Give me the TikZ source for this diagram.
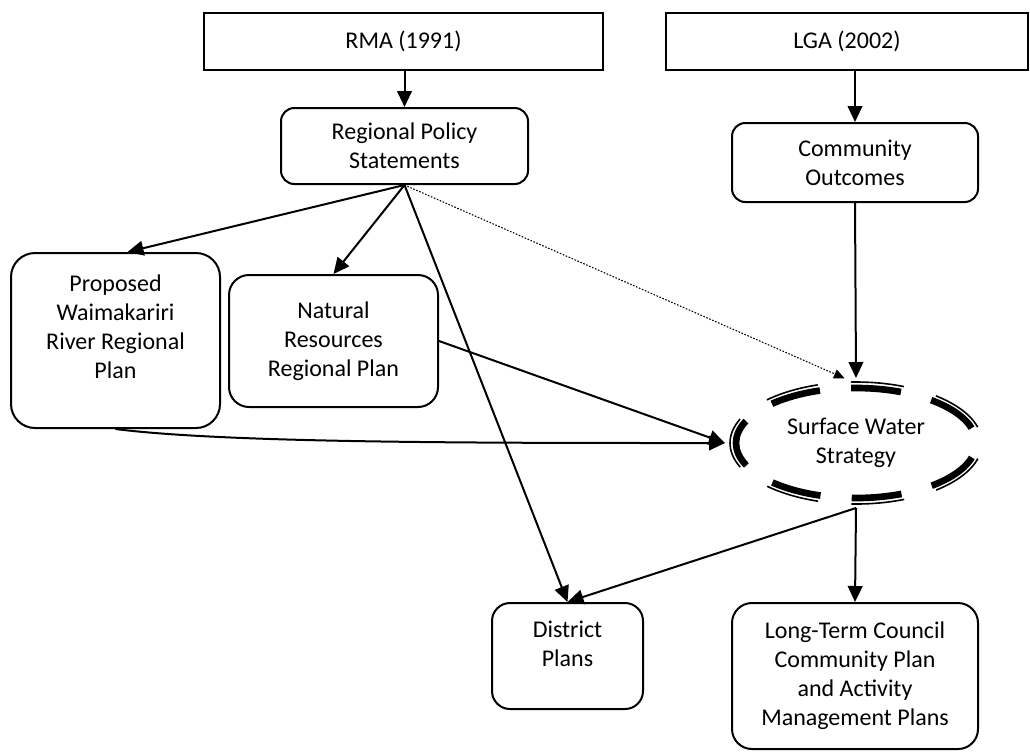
\documentclass[tikz,border=0pt]{standalone}
\usepackage{fontspec}
\setmainfont{Carlito}
\usepackage{tikz}
\usetikzlibrary{arrows.meta,shapes.geometric}

\begin{document}
\begin{tikzpicture}[x=0.75pt,y=-0.75pt,
  font=\fontsize{18}{21.75}\selectfont,
  >={Triangle[length=12pt,width=11pt]},
  actbox/.style={draw,line width=1.5pt,align=center,inner sep=0pt},
  planbox/.style={actbox,rounded corners=#1},
  planbox/.default=10pt,
  link/.style={line width=1.5pt,->},
  weaklink/.style={line width=0.8pt,dash pattern=on 1.2pt off 1.2pt,-{Triangle[length=8pt,width=7pt]}}]
\useasboundingbox (0,0) rectangle (1030,751);

\node[actbox,minimum width=299.25pt,minimum height=42.75pt] (rma) at (403.5,41.5) {RMA (1991)};
\node[actbox,minimum width=271.5pt,minimum height=42.75pt] (lga) at (847,41.5) {LGA (2002)};

\node[planbox,minimum width=185.25pt,minimum height=57pt] (rps) at (404.5,146) {Regional Policy\\Statements};
\node[planbox,minimum width=184.5pt,minimum height=59.25pt] (co) at (855,162.5) {Community\\Outcomes};

\node[planbox=18pt,minimum width=156.75pt,minimum height=131.25pt] (pwr) at (115.5,340.5) {};
\node[align=center,inner sep=0pt] (pwrtext) at (115.5,326.5) {Proposed\\Waimakariri\\River Regional\\Plan};
\node[planbox=15pt,minimum width=156.75pt,minimum height=99pt] (nrrp) at (333.5,341) {Natural\\Resources\\Regional Plan};

\node[ellipse,inner sep=0pt,outer sep=0pt,minimum width=196.5pt,minimum height=97.5pt,align=center] (sws) at (856,443) {Surface Water\\Strategy};
\draw[line width=5pt,dash pattern=on 37.5pt off 23.5pt,dash phase=49.2pt] (sws.center) ellipse [x radius=90pt,y radius=41.25pt];
\draw[line width=1.2pt,dash pattern=on 39.9pt off 25pt,dash phase=52.4pt] (sws.center) ellipse [x radius=94.5pt,y radius=45.75pt];

\node[planbox=13.5pt,minimum width=113.25pt,minimum height=79.5pt] (dp) at (567.5,656) {};
\node[align=center,inner sep=0pt] (dptext) at (567.5,644) {District\\Plans};
\node[planbox=15pt,minimum width=184.5pt,minimum height=109.5pt] (lt) at (855,676) {Long-Term Council\\Community Plan\\and Activity\\Management Plans};

\draw[link] (rps.north |- rma.south) -- (rps.north);
\draw[link] (co.north |- lga.south) -- (co.north);
\draw[link] (rps.south) -- ([xshift=9pt]pwr.north);
\draw[link] (rps.south) -- (nrrp.north);
\draw[link] (rps.south) -- (dp.north);
\draw[weaklink] (rps.south) -- (sws.100);
\draw[link] (co.south) -- (sws.north);
\draw[link] (nrrp.east) -- (sws.west);
\draw[link] (pwr.south) .. controls +(110,14) and +(-250,0) .. (sws.west);
\draw[link] (sws.south) -- (dp.north);
\draw[link] (sws.south) -- (lt.north);
\end{tikzpicture}
\end{document}
